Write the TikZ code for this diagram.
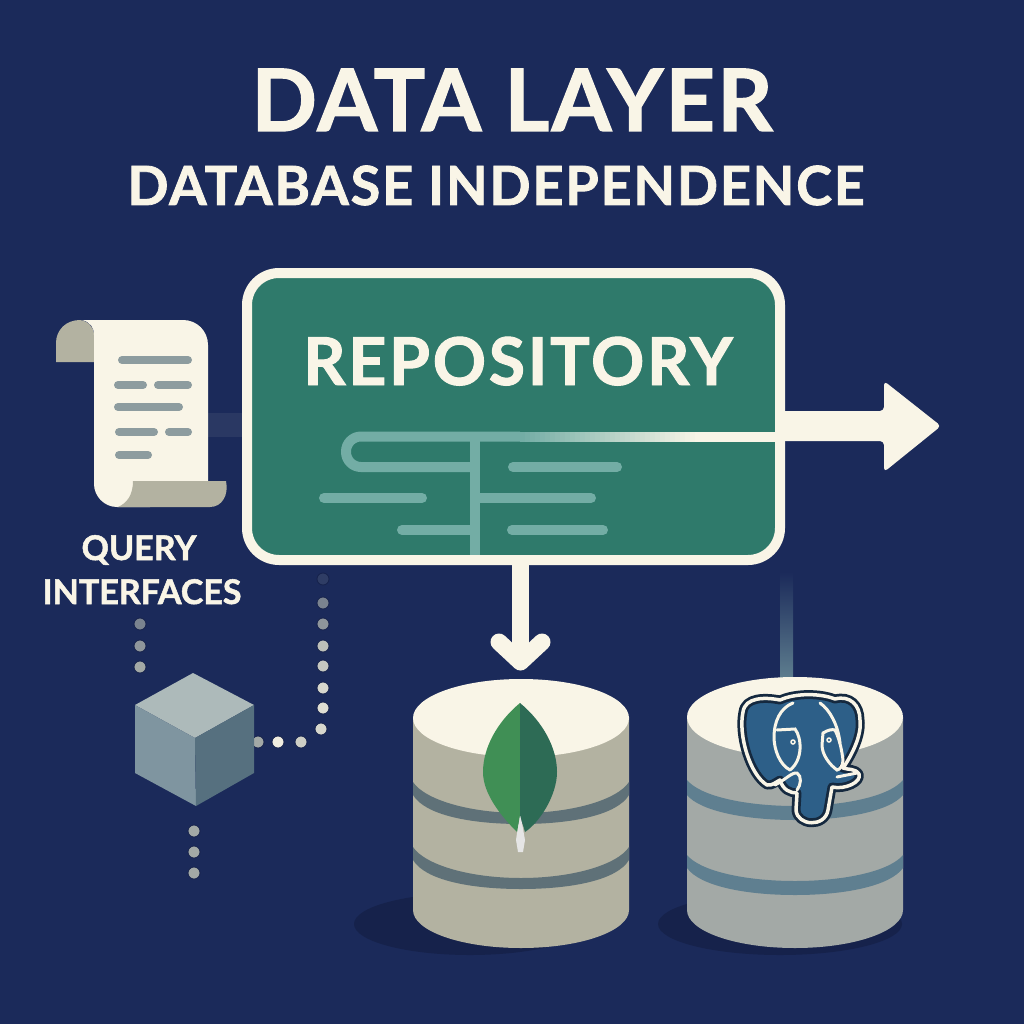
\documentclass[tikz,border=0pt]{standalone}
\usepackage{fontspec}
\setmainfont{Lato}
\definecolor{navy}{HTML}{1B2A5A}
\definecolor{navydark}{HTML}{16224B}
\definecolor{cream}{HTML}{F9F5E7}
\definecolor{repogreen}{HTML}{2F7A6B}
\definecolor{pale}{HTML}{73ADA5}
\definecolor{sage}{HTML}{B3B2A1}
\definecolor{slateline}{HTML}{5F7178}
\definecolor{slateblue}{HTML}{5F7F90}
\definecolor{stone}{HTML}{A3A9A6}
\definecolor{pgblue}{HTML}{2D5F88}
\definecolor{pgdark}{HTML}{15293F}
\definecolor{bar}{HTML}{8D9C9F}
\definecolor{cubetop}{HTML}{ADBABA}
\definecolor{cubeleft}{HTML}{7F95A0}
\definecolor{cuberight}{HTML}{56707F}
\definecolor{leafleft}{HTML}{408F55}
\definecolor{leafright}{HTML}{2D6B55}
\tikzset{
  dot/.style={circle,fill=#1,draw=navydark,line width=.8pt,inner sep=0pt,minimum size=12pt},
  caption/.style 2 args={text=cream,anchor=base,font=\bfseries\fontsize{#1}{#1}\selectfont\addfontfeatures{LetterSpace=#2,FakeBold=1.5},inner sep=0pt},
  paleline/.style={draw=pale,line width=10pt,line cap=round},
  scrollline/.style={draw=bar,line width=8pt,line cap=round},
  pgline/.style={draw=cream,line width=3pt,line cap=round},
}
\begin{document}
\begin{tikzpicture}[x=1pt,y=-1pt]
\useasboundingbox[fill=navy](0,0)rectangle(1024,1024);
% titles
\node[caption={86}{2.8}](title)at(512,131){DATA LAYER};
\node[caption={54}{3.4}](subtitle)at(496,205){DATABASE INDEPENDENCE};
% faint link from the scroll
\fill[cream,opacity=.07](205,413)rectangle(245,437);
% scroll
\fill[sage](56,362)--(56,343) .. controls (56,330) and (66,320) .. (80,320)
  .. controls (88,321) and (94,327) .. (94,335)--(94,362)--cycle;
\fill[cream](82,320)--(183,320) .. controls (197,320) and (208,331) .. (208,345)--(208,490)--(150,507)--(117,507)
  .. controls (104,507) and (94,496) .. (94,484)--(94,335) .. controls (94,327) and (90,322) .. (82,320)--cycle;
\fill[sage](133,481)--(226,481) .. controls (229,495) and (222,507) .. (210,507)--(118,507)
  .. controls (127,503) and (133,495) .. (133,481)--cycle;
\foreach \xa/\xb/\yy in {122/188/360,118/143/385,158/188/385,118/179/407,119/154/432,169/188/432,119/148/455}
  \draw[scrollline](\xa,\yy)--(\xb,\yy);
\node[caption={34}{0}](query)at(139,560){QUERY};
\node[caption={34}{0}](interfaces)at(142,604){INTERFACES};
% repository
\node[draw=cream,fill=repogreen,line width=10pt,rounded corners=32pt,minimum width=533pt,minimum height=287pt,inner sep=0pt](repo)at(513.5,416.5){};
\node[caption={66}{4.2}](repotext)at(518,385){REPOSITORY};
% tree in the repository
\draw[paleline,line cap=butt](475,436.5)--(475,555);
\draw[paleline,line cap=butt,rounded corners=15pt](475,467)--(346,467)--(346,436.5)--(520,436.5);
\foreach \i in {0,...,35}{
  \pgfmathsetmacro\pp{\i*100/35}
  \fill[cream!\pp!pale](520+\i*5,431.5)rectangle(526+\i*5,441.5);
}
\fill[cream](699,431.5)rectangle(780,441.5);
\draw[paleline](324,498)--(422,498);
\draw[paleline](475,498)--(591,498);
\draw[paleline](402,530)--(475,530);
\draw[paleline](513,467)--(617,467);
\draw[paleline](512,530)--(603,530);
% right arrow
\fill[cream,rounded corners=4pt](775,411)--(884,411)--(884,381)--(941,426)--(884,472)--(884,441)--(775,441)--cycle;
% down arrow
\draw[cream,line width=17pt](520.5,560)--(520.5,650);
\draw[cream,line width=17pt,line join=round,line cap=round](499,642)--(520.5,662)--(542,642);
% faint link to the second database
\shade[top color=navy,bottom color=slateblue](780,572)rectangle(793,680);
% shadows
\fill[navydark](470,924)ellipse(116 and 31);
\fill[navydark](780,924)ellipse(122 and 31);
% first database
\fill[sage](413,717)--(413,910) .. controls (413,931) and (461,948) .. (521,948)
  .. controls (581,948) and (629,931) .. (629,910)--(629,717)--cycle;
\foreach \yy in {782,847}
  \fill[slateline](413,\yy) .. controls (425,\yy+18) and (470,\yy+31) .. (521,\yy+31)
    .. controls (572,\yy+31) and (617,\yy+18) .. (629,\yy)--(629,\yy+13)
    .. controls (617,\yy+33) and (572,\yy+42) .. (521,\yy+42)
    .. controls (470,\yy+42) and (425,\yy+33) .. (413,\yy+13)--cycle;
\fill[cream](521,718)ellipse(108 and 39);
% leaf
\fill[black!10](520,812)--(525,840)--(523,852)--(518,852)--(516,840)--cycle;
\fill[leafleft](520,703) .. controls (497,722) and (483,748) .. (483,772)
  .. controls (483,795) and (503,818) .. (517,832)--(520,815)--cycle;
\fill[leafright](520,703) .. controls (543,722) and (557,748) .. (557,772)
  .. controls (557,795) and (540,822) .. (525,832)--(520,815)--cycle;
% second database
\fill[stone](687,717)--(687,910) .. controls (687,931) and (735,948) .. (795,948)
  .. controls (855,948) and (903,931) .. (903,910)--(903,717)--cycle;
\foreach \yy/\hh in {780/15,855/13}
  \fill[slateblue](687,\yy) .. controls (700,\yy+16) and (745,\yy+26) .. (795,\yy+26)
    .. controls (845,\yy+26) and (890,\yy+16) .. (903,\yy)--(903,\yy+\hh)
    .. controls (890,\yy+31) and (845,\yy+40) .. (795,\yy+40)
    .. controls (745,\yy+40) and (700,\yy+31) .. (687,\yy+\hh)--cycle;
\fill[cream](795,717)ellipse(108 and 40);
% elephant
\def\pgoutline{(780,700) .. controls (765,697) and (745,697) .. (743,712) .. controls (738,735) and (750,775) .. (767,785)
  .. controls (772,786) and (776,782) .. (780,780) .. controls (783,790) and (790,793) .. (797,793)
  --(796,810) .. controls (797,826) and (825,828) .. (828,810)--(832,787) .. controls (845,790) and (862,782) .. (859,774)
  .. controls (855,768) and (848,770) .. (843,768) .. controls (852,755) and (862,735) .. (860,720)
  .. controls (860,705) and (850,695) .. (835,699) .. controls (820,693) and (795,693) .. (780,700)--cycle}
\fill[pgblue]\pgoutline;
\draw[pgdark,line width=9pt,line join=round]\pgoutline;
\draw[cream,line width=3.5pt,line join=round]\pgoutline;
\draw[pgline](793,703) .. controls (780,708) and (774,722) .. (774,737) .. controls (774,750) and (780,765) .. (790,770);
\draw[pgline](777,730)--(795,729) .. controls (802,738) and (803,760) .. (790,770);
\draw[pgline](775,785) .. controls (785,780) and (792,772) .. (797,773) .. controls (802,776) and (801,785) .. (797,790);
\draw[pgline](823,733) .. controls (828,730) and (832,729) .. (835,730) .. controls (840,740) and (842,752) .. (843,760)
  .. controls (843,765) and (840,770) .. (837,770) .. controls (830,765) and (822,755) .. (822,745)--cycle;
\draw[pgline](820,703) .. controls (830,710) and (838,725) .. (840,743);
\draw[pgline](837,777)--(857,773);
\draw[cream,line width=1.5pt](793,742)circle(2);
\draw[cream,line width=1.5pt](829,740)circle(2);
% dots
\foreach \n/\xx/\yy/\cc in {a/140/624/stone!70!navy,b/140/646/stone!85!navy,c/140/667/stone,
  d/323/579/navy!85!stone,e/323/603/stone!70!navy,f/323/624/stone!85!navy,g/323/646/stone!70!cream,
  h/323/666/stone!60!cream,i/323/688/stone!40!cream,j/323/708/stone!30!cream,k/321/729/stone!40!cream,
  l/258/742/stone,m/278/742/cream!90!stone,n/301/742/stone!50!cream,
  o/194/831/stone,p/194/852/stone,q/194/873/stone}
  \node[dot=\cc](dot\n)at(\xx,\yy){};
% cube
\fill[cubetop](193,673)--(254,705)--(195,738)--(135,705)--cycle;
\fill[cubeleft](135,705)--(195,738)--(196,806)--(135,773)--cycle;
\fill[cuberight](195,738)--(254,705)--(254,773)--(196,806)--cycle;
\end{tikzpicture}
\end{document}
